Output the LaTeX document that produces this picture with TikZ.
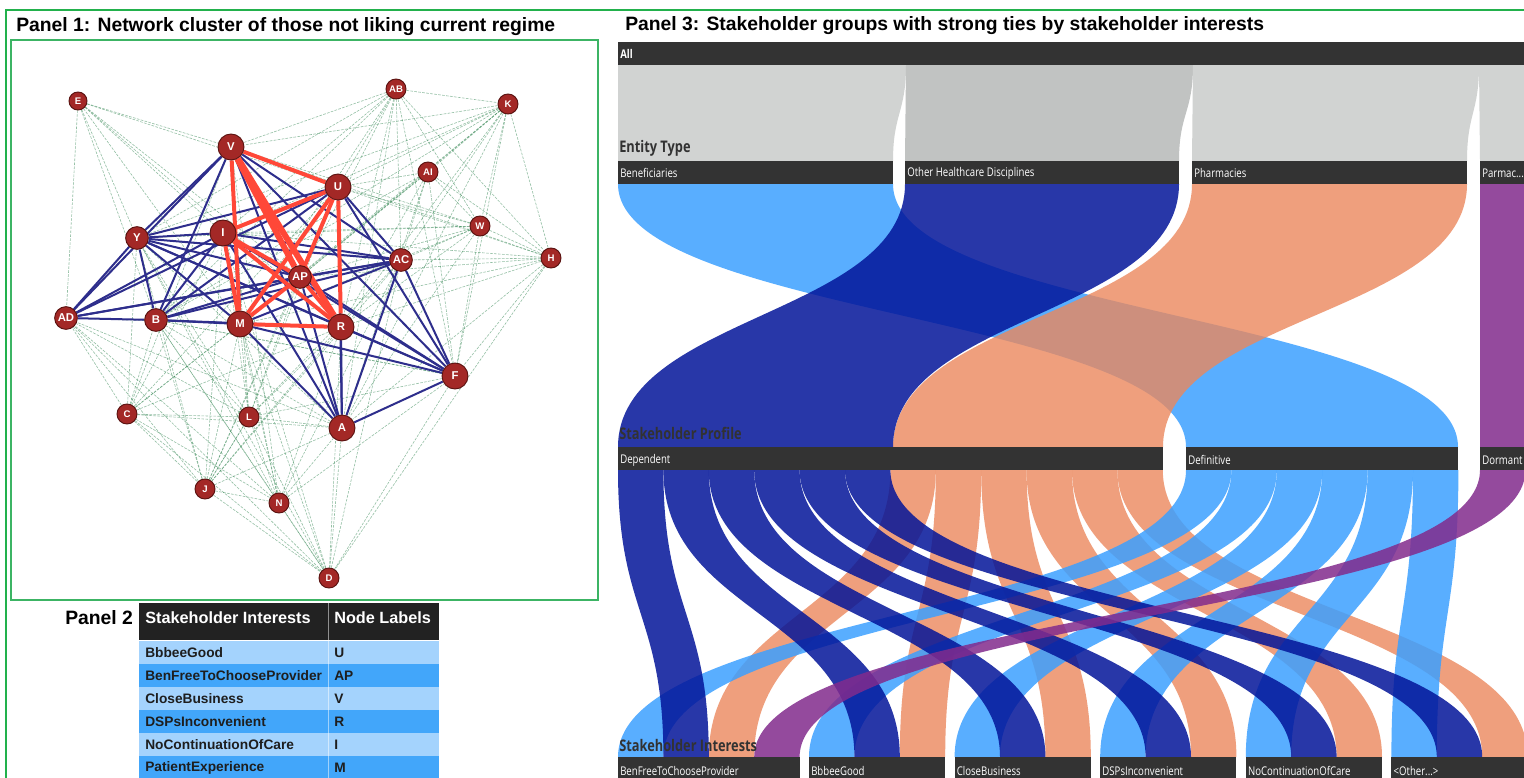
\documentclass[tikz,border=0pt]{standalone}
\usepackage{fontspec}
\setmainfont{Liberation Sans}
\newfontfamily\condfont[FakeStretch=0.8]{Open Sans}

\definecolor{frame}{RGB}{34,177,76}
\definecolor{innerframe}{RGB}{60,180,100}
\definecolor{nodefill}{RGB}{163,40,38}
\definecolor{nodeedge}{RGB}{90,18,16}
\definecolor{tieblue}{RGB}{46,46,140}
\definecolor{tiered}{RGB}{255,72,56}
\definecolor{tiegreen}{RGB}{60,140,90}
\definecolor{hdr}{RGB}{34,34,34}
\definecolor{rowlight}{RGB}{164,211,253}
\definecolor{rowdark}{RGB}{66,166,250}
\definecolor{rowtext}{RGB}{30,30,30}
\definecolor{barfill}{RGB}{51,51,51}
\definecolor{greyA}{RGB}{209,211,210}
\definecolor{greyB}{RGB}{193,195,194}
\definecolor{fBen}{RGB}{60,160,255}
\definecolor{fOth}{RGB}{3,21,153}
\definecolor{fPha}{RGB}{235,136,93}
\definecolor{fPar}{RGB}{130,43,141}
\definecolor{lvl}{RGB}{50,50,50}

\pgfdeclarelayer{ties}
\pgfsetlayers{ties,main}

% vertical sankey ribbon: style, top x, top width, bottom x, bottom width, top y, bottom y
\newcommand\flowband[7]{%
  \pgfmathsetmacro\fbm{(#6+#7)/2}%
  \pgfmathsetmacro\fba{#2}%
  \pgfmathsetmacro\fbb{#2+#3}%
  \pgfmathsetmacro\fbc{#4}%
  \pgfmathsetmacro\fbd{#4+#5}%
  \fill[#1] (\fba,#6) .. controls (\fba,\fbm) and (\fbc,\fbm) .. (\fbc,#7)
    -- (\fbd,#7) .. controls (\fbd,\fbm) and (\fbb,\fbm) .. (\fbb,#6) -- cycle;}

\begin{document}
\begin{tikzpicture}[x=0.75pt,y=-0.75pt,
  netnode/.style={circle, fill=nodefill, draw=nodeedge, line width=0.7pt, inner sep=0pt,
    text=white, font=\fontsize{8.5}{9}\selectfont\bfseries},
  nbig/.style={netnode, minimum size=19.5pt},
  nmid/.style={netnode, minimum size=17pt},
  nsmall/.style={netnode, minimum size=15pt, font=\fontsize{7.2}{8}\selectfont\bfseries},
  weak/.style={tiegreen, line width=0.45pt, dash pattern=on 2pt off 1pt, opacity=0.55},
  tie/.style={tieblue, line width=1.5pt},
  strong/.style={tiered, line width=3pt},
  stronger/.style={tiered, line width=4.5pt},
  title/.style={anchor=west, inner sep=0pt, font=\fontsize{14.5}{15}\selectfont\bfseries},
  cell/.style={anchor=west, inner sep=0pt, text=rowtext, font=\fontsize{10.3}{11}\selectfont\bfseries},
  hcell/.style={anchor=west, inner sep=0pt, text=white, font=\fontsize{12.2}{13}\selectfont\bfseries},
  barlabel/.style={anchor=west, inner sep=0pt, text=white, font=\condfont\fontsize{9}{10}\selectfont},
  lvllabel/.style={anchor=west, inner sep=0pt, text=lvl, font=\condfont\fontsize{12}{13}\selectfont\bfseries}
]
\useasboundingbox (0,0) rectangle (1524,778);
\begin{pgfonlayer}{ties}
\fill[white] (0,0) rectangle (1524,778);
\end{pgfonlayer}

% outer frame
\draw[frame, line width=1.5pt] (6,778) -- (6,10) -- (1524,10);

% ---------- Panel 1: network ----------
\node[title] (t1) at (16,27) {Panel 1: Network cluster of those not liking current regime};
\draw[innerframe, line width=0.8pt] (11,40) rectangle (598,600);

\node[nsmall, minimum size=13.5pt] (E) at (78,101) {E};
\node[nsmall] (AB) at (396,89) {AB};
\node[nsmall] (K) at (508,104) {K};
\node[nbig] (V) at (231,147) {V};
\node[nsmall] (AI) at (428,172) {AI};
\node[nbig] (U) at (338,187) {U};
\node[nsmall] (W) at (480,226) {W};
\node[nmid] (Y) at (137,238) {Y};
\node[nbig] (I) at (223,233) {I};
\node[nmid] (AC) at (401,260) {AC};
\node[nsmall] (H) at (551,258) {H};
\node[nmid] (AP) at (300,277) {AP};
\node[nmid] (AD) at (66,318) {AD};
\node[nmid] (B) at (156,320) {B};
\node[nbig] (M) at (240,324) {M};
\node[nbig] (R) at (341,327) {R};
\node[nbig] (F) at (455,376) {F};
\node[nsmall] (C) at (127,414) {C};
\node[nsmall] (L) at (249,417) {L};
\node[nbig] (A) at (342,428) {A};
\node[nsmall] (J) at (205,489) {J};
\node[nsmall] (N) at (279,503) {N};
\node[nsmall] (D) at (329,578) {D};

\begin{pgfonlayer}{ties}
% weak ties
\foreach \a/\b in {E/V,E/U,E/AD,E/B,E/AP,E/M,E/Y,E/R,E/I,
  AB/V,AB/U,AB/K,AB/I,AB/AP,AB/M,AB/R,AB/A,AB/F,AB/AC,AB/H,AB/W,AB/Y,AB/B,
  K/V,K/U,K/AI,K/AC,K/AP,K/R,K/F,K/H,K/W,K/M,K/A,K/I,K/B,K/Y,
  AI/U,AI/AP,AI/M,AI/B,AI/AC,AI/F,AI/A,AI/W,AI/H,AI/R,
  W/U,W/V,W/I,W/AC,W/AP,W/R,W/F,W/H,W/A,W/M,W/Y,
  H/U,H/AC,H/AP,H/R,H/F,H/A,H/M,H/V,H/D,H/I,
  C/Y,C/B,C/AD,C/M,C/L,C/AP,C/I,C/V,C/A,C/J,C/N,C/D,C/R,C/U,
  L/Y,L/B,L/M,L/I,L/AP,L/R,L/A,L/J,L/N,L/AD,L/U,L/F,L/D,L/V,L/AC,
  J/L,J/B,J/M,J/AP,J/A,J/N,J/D,J/AD,J/Y,J/I,J/U,J/R,J/AC,
  N/B,N/M,N/Y,N/R,N/A,N/D,N/AD,N/I,N/AC,N/F,N/V,
  D/A,D/M,D/R,D/F,D/AC,D/AD,D/B,D/I,D/Y,
  A/B,A/Y,A/AD,F/B,F/Y,AD/R,B/F}
  {\draw[weak] (\a) -- (\b);}
% ties
\foreach \a/\b in {V/Y,V/AD,V/B,V/AC,V/F,V/A,
  U/Y,U/AD,U/B,U/AC,U/F,U/A,
  I/Y,I/AD,I/B,I/AC,I/F,I/A,
  Y/AD,Y/B,Y/M,Y/AP,Y/AC,Y/R,Y/F,
  AD/B,B/M,AD/AP,AD/AC,
  B/AP,B/AC,B/R,
  AC/M,AC/F,AC/A,AC/AP,
  AP/F,AP/A,M/F,M/A,R/F,R/A,A/F}
  {\draw[tie] (\a) -- (\b);}
% strong ties
\foreach \a/\b in {V/U,V/M,U/I,U/AP,U/M,U/R,I/M,I/AP,I/R,M/AP,M/R,AP/R}
  {\draw[strong] (\a) -- (\b);}
\foreach \a/\b in {V/AP,V/R}
  {\draw[stronger] (\a) -- (\b);}
\end{pgfonlayer}

% ---------- Panel 2: table ----------
\node[title] (t2) at (65,618) {Panel 2};
\fill[hdr] (139,603) rectangle (439,640);
\node[hcell] (h1) at (145,618) {Stakeholder Interests};
\node[hcell] (h2) at (334,618) {Node Labels};
\foreach \i/\c/\s/\l in {0/rowlight/BbbeeGood/U,1/rowdark/BenFreeToChooseProvider/AP,
  2/rowlight/CloseBusiness/V,3/rowdark/DSPsInconvenient/R,
  4/rowlight/NoContinuationOfCare/I,5/rowdark/PatientExperience/M} {
  \fill[\c] (139,{641+23*\i}) rectangle (439,{664+23*\i});
  \node[cell] (s\i) at (145,{652.5+23*\i}) {\s};
  \node[cell] (l\i) at (334,{652.5+23*\i}) {\l};
}
\draw[white, opacity=0.5, line width=0.6pt] (328.5,603) -- (328.5,778);

% ---------- Panel 3: sankey ----------
\node[title] (t3) at (625,26) {Panel 3: Stakeholder groups with strong ties by stakeholder interests};
\begin{scope}
\clip (600,36) rectangle (1524,778);
% All -> Entity Type
\flowband{greyA}{618}{288}{618}{275}{65}{161}
\flowband{greyB}{906}{287}{905}{274}{65}{161}
\flowband{greyA}{1193}{286}{1192}{275}{65}{161}
\flowband{greyA}{1479}{100}{1480}{100}{65}{161}
% Entity Type -> Stakeholder Profile
\flowband{fBen, fill opacity=0.85}{618}{275}{1186}{272}{184}{447}
\flowband{fPha, fill opacity=0.8}{1192}{275}{893}{270}{184}{447}
\flowband{fOth, fill opacity=0.85}{905}{274}{618}{275}{184}{447}
\flowband{fPar, fill opacity=0.85}{1480}{100}{1480}{100}{184}{447}
% Stakeholder Profile -> Stakeholder Interests
\foreach \k/\t in {0/618,1/809,2/954.6,3/1100.2,4/1245.8,5/1391.4}
  {\flowband{fPha, fill opacity=0.8}{618+(6+\k)*45.4}{45.4}{\t+2*45.4}{45.4}{470}{757}}
\foreach \k/\t in {0/618,1/809,2/954.6,3/1100.2,4/1245.8,5/1391.4}
  {\flowband{fBen, fill opacity=0.85}{1186+\k*45.4}{45.4}{\t}{45.4}{470}{757}}
\foreach \k/\t in {0/618,1/809,2/954.6,3/1100.2,4/1245.8,5/1391.4}
  {\flowband{fOth, fill opacity=0.85}{618+\k*45.4}{45.4}{\t+45.4}{45.4}{470}{757}}
\flowband{fPar, fill opacity=0.85}{1480}{45.4}{618+3*45.4}{45.4}{470}{757}

% level bars
\fill[barfill] (618,42) rectangle (1570,65);
\node[barlabel, font=\condfont\fontsize{9}{10}\selectfont\bfseries] (all) at (620,54) {All};

\node[lvllabel] (lv1) at (619,148) {Entity Type};
\foreach \x/\e/\t/\nm in {618/893/{Beneficiaries}/ben,905/1179/{Other Healthcare Disciplines}/oth,
  1192/1467/{Pharmacies}/pha,1480/1570/{Parmac...}/par} {
  \fill[barfill] (\x,161) rectangle (\e,184);
  \node[barlabel] (\nm) at (\x+2,173) {\t};
}

\node[lvllabel] (lv2) at (619,433) {Stakeholder Profile};
\foreach \x/\e/\t/\nm in {618/1163/{Dependent}/dep,1186/1458/{Definitive}/def,1480/1570/{Dormant}/dor} {
  \fill[barfill] (\x,447) rectangle (\e,470);
  \node[barlabel] (\nm) at (\x+2,460) {\t};
}

\node[lvllabel] (lv3) at (619,745) {Stakeholder Interests};
\foreach \x/\e/\t/\nm in {618/799.6/{BenFreeToChooseProvider}/i0,809/945.2/{BbbeeGood}/i1,
  954.6/1090.8/{CloseBusiness}/i2,1100.2/1236.4/{DSPsInconvenient}/i3,
  1245.8/1382/{NoContinuationOfCare}/i4,1391.4/1570/{<Other...>}/i5} {
  \fill[barfill] (\x,757) rectangle (\e,790);
  \node[barlabel] (\nm) at (\x+2,771) {\t};
}
\end{scope}
\end{tikzpicture}
\end{document}
